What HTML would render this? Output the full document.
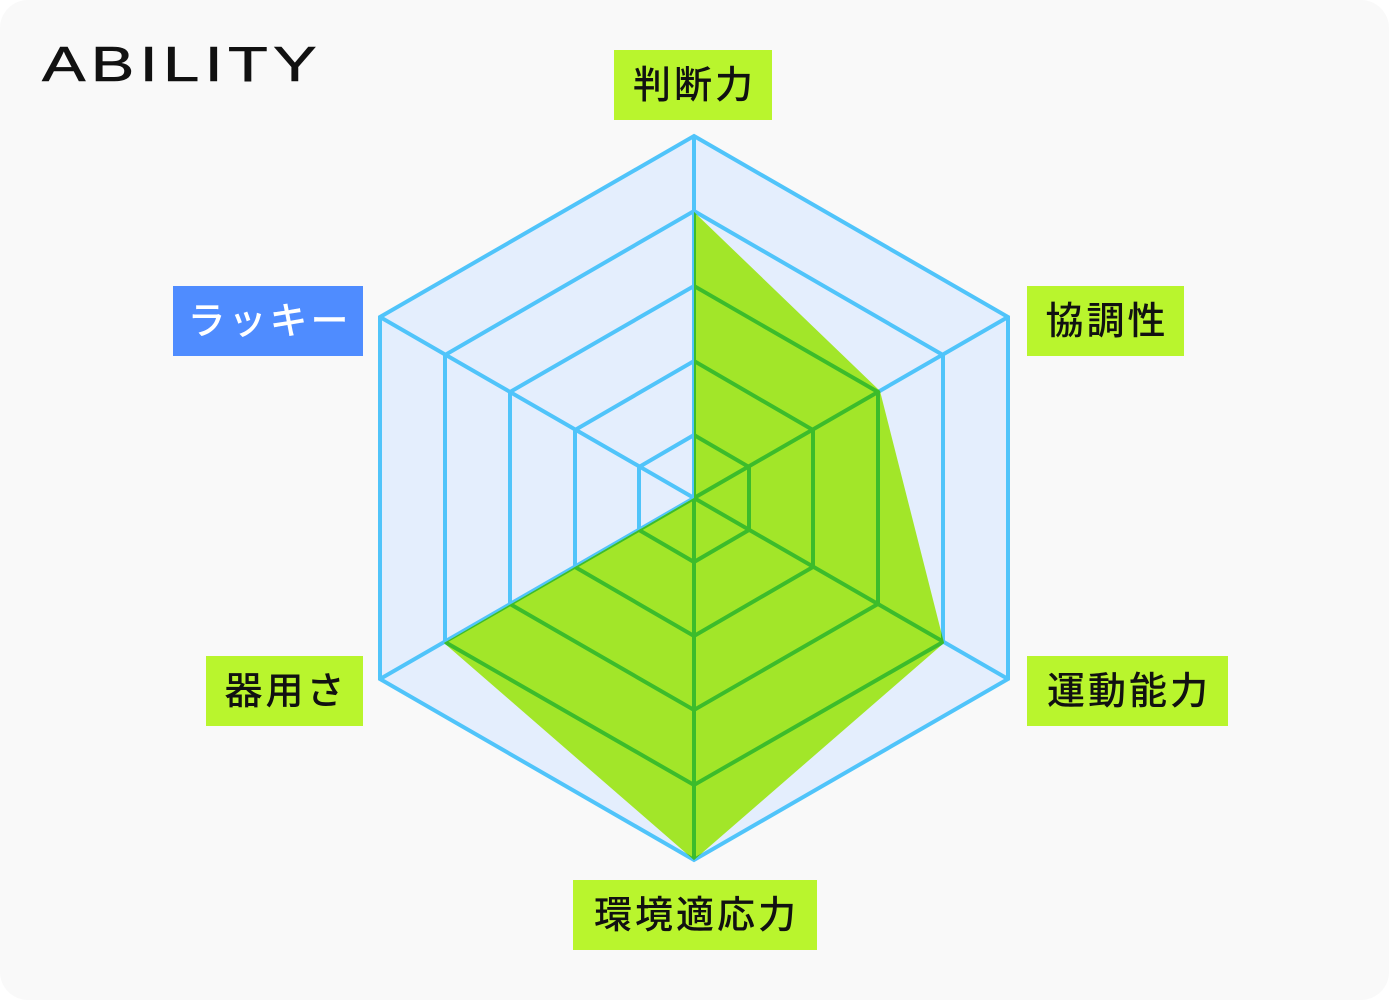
<!DOCTYPE html>
<html><head><meta charset="utf-8"><style>
html,body{margin:0;padding:0;background:#fff;}
.wrap{position:relative;width:1389px;height:1000px;background:#f9f9f9;border-radius:28px;overflow:hidden;}
.t{position:absolute;left:42px;top:37px;font:500 49px "Liberation Sans",sans-serif;letter-spacing:4px;color:#111;transform:scaleX(1.33);transform-origin:0 0;-webkit-text-stroke:0.6px #111;}
.l{position:absolute;height:70px;line-height:70px;text-align:center;font:500 38px "Liberation Sans","Noto Sans CJK JP",sans-serif;color:#111;background:#b9f52d;letter-spacing:3px;box-sizing:border-box;padding-left:3px;}
.l span{position:relative;top:4px;}
</style></head><body><div class="wrap">
<div class="t">ABILITY</div>
<svg width="1389" height="1000" style="position:absolute;left:0;top:0">
<defs><clipPath id="c"><polygon points="694,212 880,391 944,643 694,860 444,643 694,498"/></clipPath></defs>
<polygon points="694,136 1008,317 1008,679 694,860 380,679 380,317" fill="#e4eefd"/>
<g id="g" fill="none" stroke-width="4">
<polygon points="694,136 1008,317 1008,679 694,860 380,679 380,317"/>
<polygon points="694,211 943,355 943,642 694,785 445,642 445,355"/>
<polygon points="694,286 878,392 878,604 694,710 510,604 510,392"/>
<polygon points="694,361 813,430 813,567 694,636 575,567 575,430"/>
<polygon points="694,435 749,467 749,530 694,562 639,530 639,467"/>
<path d="M694,498L694,136M694,498L1008,317M694,498L1008,679M694,498L694,860M694,498L380,679M694,498L380,317"/>
</g>
<use href="#g" stroke="#50c4fa"/>
<polygon points="694,212 880,391 944,643 694,860 444,643 694,498" fill="#a2e629"/>
<g clip-path="url(#c)"><use href="#g" stroke="#3cbc2b"/></g>
</svg>
<div class="l" style="left:614px;top:50px;width:158px"><span>判断力</span></div>
<div class="l" style="left:1027px;top:286px;width:157px"><span>協調性</span></div>
<div class="l" style="left:1027px;top:656px;width:201px"><span>運動能力</span></div>
<div class="l" style="left:573px;top:880px;width:244px"><span>環境適応力</span></div>
<div class="l" style="left:206px;top:656px;width:157px"><span>器用さ</span></div>
<div class="l" style="left:173px;top:286px;width:190px;background:#4f8cff;color:#fff"><span>ラッキー</span></div>
</div></body></html>
